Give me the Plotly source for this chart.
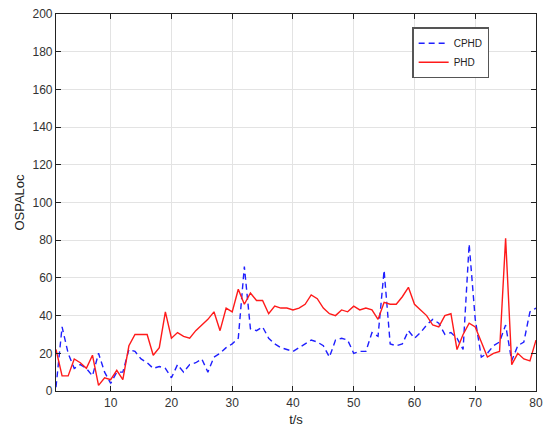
import plotly.graph_objects as go

t = list(range(1, 81))
phd = [22, 8, 8, 17, 15, 12, 19, 3, 7, 6,
       11, 6, 24, 30, 30, 30, 19, 23, 42, 28,
       31, 29, 28, 32, 35, 38, 42, 32, 44, 42,
       54, 46, 52, 48, 48, 41, 45, 44, 44, 43,
       44, 46, 51, 49, 44, 41, 40, 43, 42, 45,
       43, 44, 43, 38, 47, 46, 46, 50, 55, 46,
       43, 40, 35, 34, 40, 41, 22, 30, 36, 34,
       26, 18, 20, 21, 81, 14, 20, 17, 16, 27]
cphd = [2, 34, 20, 12, 14, 12, 8, 20, 10, 4,
        10, 10, 22, 21, 17, 15, 12, 13, 12, 7,
        14, 10, 14, 15, 17, 10, 18, 20, 23, 25,
        28, 66, 33, 32, 34, 28, 25, 23, 22, 21,
        23, 25, 27, 26, 24, 18, 27, 28, 27, 20,
        21, 21, 31, 29, 64, 25, 24, 25, 32, 28,
        31, 35, 38, 36, 30, 31, 28, 22, 78, 38,
        18, 20, 24, 26, 35, 16, 24, 26, 42, 44]
xticks = [10, 20, 30, 40, 50, 60, 70, 80]
yticks = [0, 20, 40, 60, 80, 100, 120, 140, 160, 180, 200]

fig = go.Figure()
fig.add_trace(go.Scatter(x=t, y=cphd, mode="lines", name="CPHD",
                         line=dict(color="#1f1fff", width=1.4, dash="6px,4px")))
fig.add_trace(go.Scatter(x=t, y=phd, mode="lines", name="PHD",
                         line=dict(color="#ff1a1a", width=1.4)))

axis_common = dict(showline=True, linecolor="#222", linewidth=1.2, mirror="ticks",
                   ticks="inside", ticklen=5, tickcolor="#222",
                   showgrid=True, gridcolor="#e3e3e3", gridwidth=1,
                   zeroline=False, tickfont=dict(size=12, color="#333"))
fig.update_xaxes(range=[1, 80], tickvals=xticks, title=dict(text="t/s", font=dict(size=13, color="#222"), standoff=6),
                 **axis_common)
fig.update_yaxes(range=[0, 200], tickvals=yticks, title=dict(text="OSPALoc", font=dict(size=13, color="#222"), standoff=4),
                 **axis_common)

fig.update_layout(
    width=550, height=442,
    margin=dict(l=56, r=7, t=10, b=51),
    paper_bgcolor="white", plot_bgcolor="white",
    font=dict(family="Liberation Sans, Arial, sans-serif", size=12, color="#222"),
    showlegend=True,
    legend=dict(x=0.742, y=0.965, xanchor="left", yanchor="top",
                bgcolor="white", bordercolor="#555", borderwidth=1.5,
                font=dict(size=10, color="#222"), tracegroupgap=0,
                itemwidth=30),
)

fig.write_html("out.html", config={"displayModeBar": False},
               post_script="document.body.style.margin='0';document.body.style.overflow='hidden';")
